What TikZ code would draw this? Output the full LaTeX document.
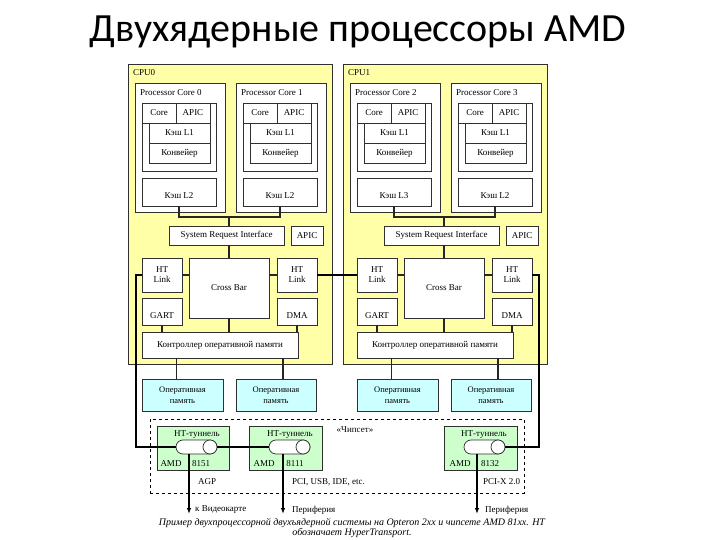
\documentclass[tikz,border=0pt]{standalone}
\usepackage{fontspec}
\setmainfont{Liberation Serif}
\newfontfamily\titlefont{Carlito}
\usetikzlibrary{arrows.meta}
\definecolor{cpuyel}{HTML}{FFFFA8}
\definecolor{memcyan}{HTML}{CCFFFF}
\definecolor{chipgreen}{HTML}{CCFFCC}
\definecolor{edge}{HTML}{303030}
\tikzset{
  txt/.style={font=\fontsize{9}{10}\selectfont, inner sep=0pt, align=center},
  bx/.style={draw=edge, line width=0.6pt, fill=white, inner sep=0pt, outer sep=0pt,
    font=\fontsize{9}{10}\selectfont, align=center},
  cpu/.style={bx, fill=cpuyel},
  mem/.style={bx, fill=memcyan, font=\fontsize{8.5}{11}\selectfont},
  chipbox/.style={bx, fill=chipgreen},
  chipset/.style={draw=black, line width=0.7pt, dashed, fill=none, inner sep=0pt},
  pill/.style={draw=edge, line width=0.7pt, fill=white, rounded corners=7pt, inner sep=0pt,
    minimum width=41pt, minimum height=14pt},
  pillend/.style={draw=edge, line width=0.7pt, fill=white, circle, inner sep=0pt, minimum size=14pt},
  conn/.style={draw=black!85, line width=1.1pt},
  wire/.style={draw=black, line width=1.4pt},
  arr/.style={wire, -{Latex[length=6pt,width=4.5pt]}},
  captext/.style={font=\fontsize{10}{10}\selectfont\itshape, align=center, inner sep=0pt}
}
% \mybox[style]{name}{x1}{y1}{x2}{y2}{text}
\newcommand\mybox[6][bx]{%
  \node[#1, minimum width={#5pt-#3pt}, minimum height={#6pt-#4pt}] (#2)
    at ({(#3+#5)/2},{(#4+#6)/2}) {\mytext};}
\newcommand\mytext{}
\newcommand\tbox[7][bx]{\renewcommand\mytext{#7}\mybox[#1]{#2}{#3}{#4}{#5}{#6}\renewcommand\mytext{}}
% core unit: #1 name, #2 xshift, #3 title, #4 L2 text
\newcommand\coreunit[4]{%
\begin{scope}[xshift=#2pt]
  \tbox{#1}{135}{83}{225}{212}{}
  \node[txt, anchor=west] (#1-title) at (140,93) {#3};
  \tbox{#1-grp}{142}{103}{216}{171}{}
  \tbox{#1-core}{142}{103}{176}{123}{Core}
  \tbox{#1-apic}{176}{103}{210}{123}{APIC}
  \tbox{#1-l1}{149}{123}{210}{143}{Кэш L1}
  \tbox{#1-pipe}{149}{143}{210}{163}{Конвейер}
  \tbox{#1-l2}{142}{178}{216}{206}{}
  \node[txt] (#1-l2t) at (179,196) {#4};
\end{scope}}
% cpu unit: #1 prefix, #2 offset, #3 label, #4 core A title, #5 core B title, #6 core A L2 text
\newcommand\cpuunit[6]{%
\begin{scope}[xshift=#2pt]
  \tbox[cpu]{#1}{128}{64}{332}{364}{}
  \node[txt, anchor=west] (#1-lbl) at (133,73) {#3};
  \coreunit{#1a}{0}{#4}{#6}
  \coreunit{#1b}{101}{#5}{Кэш L2}
  \tbox{#1-sri}{169}{226}{284}{245}{System Request Interface}
  \tbox{#1-apic}{291}{226}{323}{245}{APIC}
  \tbox{#1-htl}{142}{258}{182}{292}{HT\\Link}
  \tbox{#1-xbar}{189}{258}{269}{318}{Cross Bar}
  \tbox{#1-htr}{277}{258}{317}{292}{HT\\Link}
  \tbox{#1-gart}{142}{298}{182}{325}{}
  \node[txt] (#1-gartt) at (162,316) {GART};
  \tbox{#1-dma}{277}{298}{317}{325}{}
  \node[txt] (#1-dmat) at (297,316) {DMA};
  \tbox{#1-ctrl}{142}{332}{298}{358}{Контроллер оперативной памяти}
  \tbox[mem]{#1-m1}{142}{379}{223}{411}{Оперативная\\память}
  \tbox[mem]{#1-m2}{236}{379}{316}{411}{Оперативная\\память}
  \coordinate (#1-j) at (229,217);
  \draw[conn] (#1a-l2.south) |- (#1-j) -| (#1b-l2.south);
  \draw[conn] (#1-j) -- (#1-j |- #1-sri.north);
  \draw[conn] (#1-xbar.north) -- (#1-xbar.north |- #1-sri.south);
  \draw[conn] (#1-htl.east) -- (#1-htl.east -| #1-xbar.west);
  \draw[conn] (#1-htr.west) -- (#1-htr.west -| #1-xbar.east);
  \draw[conn] (#1-xbar.south) -- (#1-xbar.south |- #1-ctrl.north);
  \draw[conn] (#1-gart.south) -- (#1-gart.south |- #1-ctrl.north);
  \draw[conn] (#1-dma.south) -- (#1-dma.south |- #1-ctrl.north);
  \draw[conn] ([xshift=-6pt]#1-m1.north) -- ([xshift=-6pt]#1-m1.north |- #1-ctrl.south);
  \draw[conn] ([xshift=7pt]#1-m2.north) -- ([xshift=7pt]#1-m2.north |- #1-ctrl.south);
\end{scope}}

\begin{document}
\begin{tikzpicture}[x=1pt,y=-1pt]
\useasboundingbox[fill=white] (0,0) rectangle (720,540);
\node[font=\titlefont\fontsize{40}{44}\selectfont, inner sep=0pt] (title) at (358,32) {Двухядерные процессоры AMD};

\cpuunit{c0}{0}{CPU0}{Processor Core 0}{Processor Core 1}{Кэш L2}
\cpuunit{c1}{215}{CPU1}{Processor Core 2}{Processor Core 3}{Кэш L3}

% chipset
\tbox[chipset]{chip}{150}{419}{524}{493}{}
\node[txt] (chipl) at (355,430) {«Чипсет»};

\tbox[chipbox]{g1}{157}{426}{229}{470}{}
\tbox[chipbox]{g2}{249}{426}{322}{470}{}
\tbox[chipbox]{g3}{444}{426}{517}{470}{}
\node[txt] (g1t) at (197,435) {НТ-туннель};
\node[txt] (g2t) at (290,435) {НТ-туннель};
\node[txt] (g3t) at (484,435) {НТ-туннель};

\node[pill] (p1) at (196.5,447) {};
\node[pillend] (p1c) at (210,447) {};
\node[pill] (p2) at (289.5,447) {};
\node[pillend] (p2c) at (303,447) {};
\node[pill] (p3) at (484.5,447) {};
\node[pillend] (p3c) at (498,447) {};

\node[txt] (g1a) at (171,464) {AMD};
\node[txt] (g1n) at (201,464) {8151};
\node[txt] (g2a) at (264,464) {AMD};
\node[txt] (g2n) at (295,464) {8111};
\node[txt] (g3a) at (460,464) {AMD};
\node[txt] (g3n) at (490,464) {8132};

\node[txt, anchor=west] (bus1) at (198,482) {AGP};
\node[txt, anchor=west] (bus2) at (292,482) {PCI, USB, IDE, etc.};
\node[txt, anchor=west] (bus3) at (483,482) {PCI-X 2.0};

\coordinate (a1) at (189,514);
\coordinate (a2) at (283,514);
\coordinate (a3) at (477,514);
\draw[arr] (a1 |- p1.south) -- (a1);
\draw[arr] (a2 |- p2.south) -- (a2);
\draw[arr] (a3 |- p3.south) -- (a3);
\node[txt, anchor=west] (o1) at (195,510) {к Видеокарте};
\node[txt, anchor=west] (o2) at (292,510) {Периферия};
\node[txt, anchor=west] (o3) at (485,510) {Периферия};

% HT wires
\coordinate (w0) at (136,447);
\coordinate (w1) at (539,447);
\draw[wire] (c0-htl.west) -| (w0) -- (p1.west);
\draw[wire] (p1c.east) -- (p2.west);
\draw[wire] (c1-htr.east) -| (w1) -- (p3c.east);
\draw[wire] (c0-htr.east) -- (c1-htl.west);

\node[captext] (caption) at (352,528) {Пример двухпроцессорной двухъядерной системы на Opteron 2xx и чипсете AMD 81xx. HT\\обозначает HyperTransport.};
\end{tikzpicture}
\end{document}
